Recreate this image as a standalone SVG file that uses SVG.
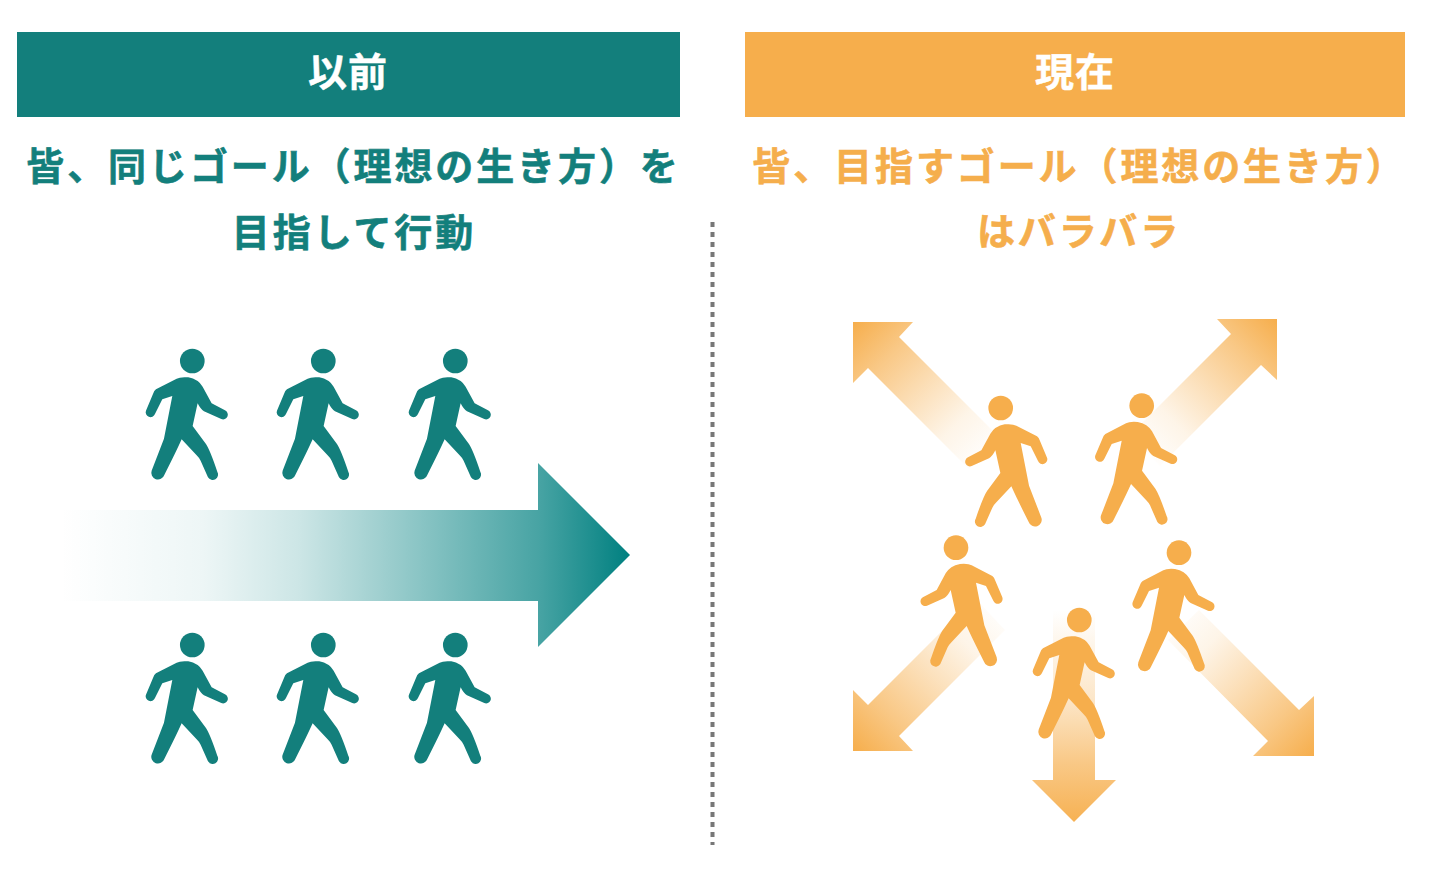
<svg xmlns="http://www.w3.org/2000/svg" width="1440" height="887" viewBox="0 0 1440 887">
<style>
text{font-family:"Noto Sans CJK JP","Noto Sans",sans-serif;font-weight:700;text-anchor:middle}
.h{font-size:39px;fill:#fff;stroke:#fff;stroke-width:.4px;letter-spacing:1px}
.t{font-size:38px;fill:#137f7c;stroke:#137f7c;stroke-width:.6px;letter-spacing:2.9px}
.o{font-size:38px;fill:#f5ae4c;stroke:#f5ae4c;stroke-width:.6px;letter-spacing:2.9px}
.teal{fill:#137f7c}
.org{fill:#f6ae4c}
</style>
<defs>
<g id="person">
<g transform="scale(0.3333) translate(-187,-63)">
<circle cx="187" cy="63" r="37"/>
<path d="M78 148 L140 116 Q150 110 175 112 Q205 118 218 140 L245 190 L285 211 A14 14 0 0 1 274 237 L222 214 Q212 208 203 190 L188 258 L228 312 Q240 330 262 395 A15 15 0 0 1 234 412 L212 362 Q208 354 200 346 L155 298 Q140 332 103 405 A18 18 0 0 1 65 392 L102 296 L127 168 L97 178 L75 222 A14 14 0 0 1 48 212 L70 160 Q72 152 78 148 Z"/>
</g>
</g>
<linearGradient id="gt" gradientUnits="userSpaceOnUse" x1="60" y1="0" x2="630" y2="0">
<stop offset="0" stop-color="#008080" stop-opacity="0"/>
<stop offset=".25" stop-color="#008080" stop-opacity=".07"/>
<stop offset=".42" stop-color="#008080" stop-opacity=".2"/>
<stop offset=".6" stop-color="#008080" stop-opacity=".42"/>
<stop offset=".84" stop-color="#008080" stop-opacity=".72"/>
<stop offset="1" stop-color="#008080"/>
</linearGradient>
<linearGradient id="fade">
<stop offset="0" stop-color="#f6ae4c"/>
<stop offset=".25" stop-color="#f6ae4c" stop-opacity=".68"/>
<stop offset=".5" stop-color="#f6ae4c" stop-opacity=".4"/>
<stop offset=".75" stop-color="#f6ae4c" stop-opacity=".13"/>
<stop offset="1" stop-color="#f6ae4c" stop-opacity="0"/>
</linearGradient>
<linearGradient id="g1" href="#fade" gradientUnits="userSpaceOnUse" x1="853" y1="322" x2="990" y2="459"/>
<linearGradient id="g2" href="#fade" gradientUnits="userSpaceOnUse" x1="1277" y1="319" x2="1140" y2="456"/>
<linearGradient id="g3" href="#fade" gradientUnits="userSpaceOnUse" x1="853" y1="751" x2="1000" y2="604"/>
<linearGradient id="g4" href="#fade" gradientUnits="userSpaceOnUse" x1="1314" y1="756" x2="1170" y2="612"/>
<linearGradient id="g5" gradientUnits="userSpaceOnUse" x1="0" y1="830" x2="0" y2="610">
<stop offset="0" stop-color="#f6ae4c"/><stop offset=".3" stop-color="#f6ae4c" stop-opacity=".68"/><stop offset=".6" stop-color="#f6ae4c" stop-opacity=".3"/><stop offset="1" stop-color="#f6ae4c" stop-opacity="0"/>
</linearGradient>
</defs>
<g id="connectors">
<path id="divider" d="M712.5 222V845" fill="none" stroke="#777" stroke-width="4" stroke-dasharray="5 5"/>
<path id="arrow-same" fill="url(#gt)" d="M60 510H538V463L630 555L538 647V601H60Z"/>
<path id="arrow-nw" fill="url(#g1)" d="M853 322H913L899 337L1000 438L969 469L868 368L853 383Z"/>
<path id="arrow-ne" fill="url(#g2)" d="M1277 319H1217L1231 334L1130 435L1160 466L1261 365L1277 380Z"/>
<path id="arrow-sw" fill="url(#g3)" d="M853 751H913L899 736L1005 630L975 598L868 705L853 690Z"/>
<path id="arrow-se" fill="url(#g4)" d="M1314 756H1253L1268 741L1168 640L1199 610L1299 710L1314 696Z"/>
<path id="arrow-s" fill="url(#g5)" d="M1053 610H1095V780H1116L1074 822L1032 780H1053Z"/>
</g>
<g id="header-before"><rect x="17" y="32" width="663" height="85" class="teal"/><text class="h" x="348" y="86">以前</text></g>
<g id="header-now"><rect x="745" y="32" width="660" height="85" class="org"/><text class="h" x="1075" y="86">現在</text></g>
<g id="caption-before"><text class="t" x="353.5" y="180">皆、同じゴール（理想の生き方）を</text><text class="t" x="354" y="246">目指して行動</text></g>
<g id="caption-now"><text class="o" x="1079.5" y="180">皆、目指すゴール（理想の生き方）</text><text class="o" x="1079" y="245">はバラバラ</text></g>
<g id="people-before" class="teal">
<use id="p1" href="#person" x="192.3" y="361"/>
<use id="p2" href="#person" x="323.3" y="361"/>
<use id="p3" href="#person" x="455.3" y="361"/>
<use id="p4" href="#person" x="192.3" y="645"/>
<use id="p5" href="#person" x="323.3" y="645"/>
<use id="p6" href="#person" x="455.3" y="645"/>
</g>
<g id="people-now" class="org">
<use id="p7" href="#person" transform="translate(1000.7,408) scale(-1,1)"/>
<use id="p8" href="#person" x="1141.7" y="405.7"/>
<use id="p9" href="#person" transform="translate(956,547.7) scale(-1,1)"/>
<use id="p10" href="#person" x="1079.3" y="620"/>
<use id="p11" href="#person" x="1179" y="552.7"/>
</g>
</svg>
